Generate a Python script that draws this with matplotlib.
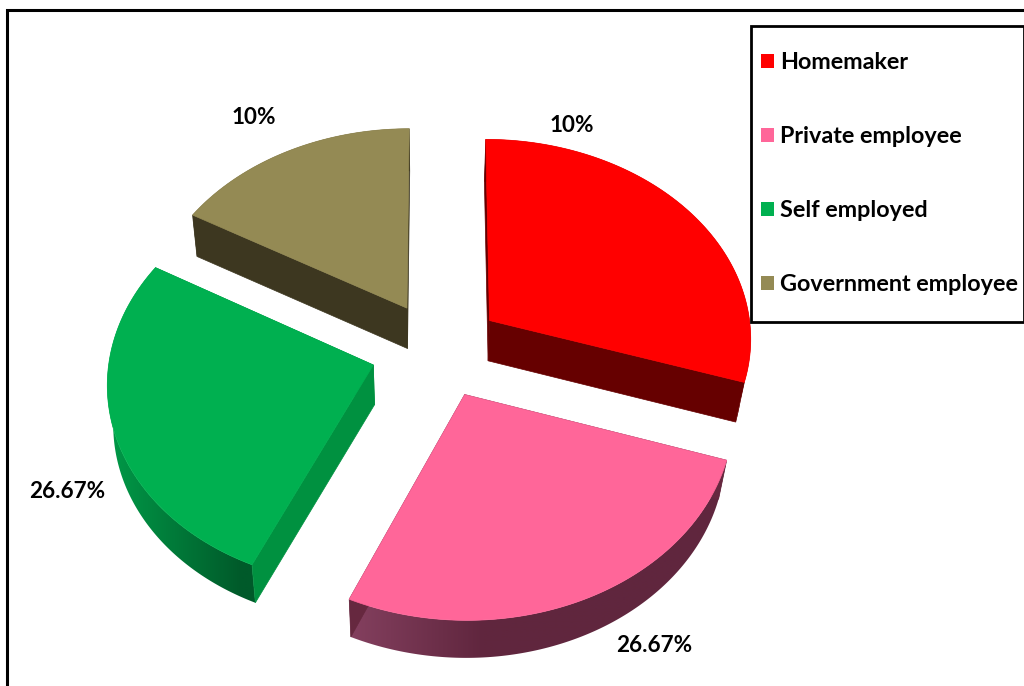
import numpy as np
from matplotlib import pyplot as plt
from matplotlib.colors import LinearSegmentedColormap
from matplotlib.patches import Patch, Polygon, Rectangle

plt.rcParams['font.family'] = ['Lato', 'DejaVu Sans']

categories = ['Homemaker', 'Private employee', 'Self employed', 'Government employee']
shares = [30, 26.67, 26.67, 16.67]
value_labels = ['10%', '26.67%', '26.67%', '10%']
top_colors = ['#FF0000', '#FF6699', '#00B050', '#948A54']
wall_colors = ['#660000', '#66283F', '#009140', '#3D3720']
rim_left = ['#660000', '#84405F', '#009A48', '#3D3720']
rim_right = ['#660000', '#60263E', '#005A2A', '#3D3720']
label_pos = [(572, 125), (654, 646), (67, 491), (254, 118)]
explode = [0.245, 0.245, 0.257, 0.24]

# pie geometry, in pixels
CX, CY = 438, 349
BX, AY = 263, 200
K = 0.08        # perspective
DEPTH = 40


def project(u, v, lower=False):
    w = 1 + K * v
    x = BX * u / w
    y = AY * v / w
    if lower:
        # bottom face slightly narrower
        return CX + x * np.where(x < 0, 0.982, 0.972), CY - y + DEPTH * (1 + 0.05 * v)
    return CX + x, CY - y


fig = plt.figure(figsize=(10.24, 6.86), dpi=100)
ax = fig.add_axes([0, 0, 1, 1])

# outer frame, runs off the right and bottom edge
ax.add_patch(Rectangle((7, 10), 1040, 700, fc='white', ec='black', lw=2.2, zorder=0))

edges = np.cumsum([0] + shares) / np.sum(shares) * 2 * np.pi
order = [3, 0, 2, 1]  # back to front

for i in order:
    t0, t1 = edges[i], edges[i + 1]
    mid = (t0 + t1) / 2
    ou, ov = explode[i] * np.sin(mid), explode[i] * np.cos(mid)
    t = np.linspace(t0, t1, 200)
    u = ou + np.sin(t)
    v = ov + np.cos(t)
    z = 3 + order.index(i)

    # outer wall, shaded left to right over its first part
    xt, yt = project(u, v)
    xb, yb = project(u, v, lower=True)
    rim = Polygon(list(zip(xt, yt)) + list(zip(xb[::-1], yb[::-1])), fc='none', ec='none',
                  transform=ax.transData)
    ax.add_patch(rim)
    x0 = min(xt.min(), xb.min())
    x1 = max(xt.max(), xb.max())
    span = 135
    shade = np.clip((np.arange(x0, x1 + 1) - x0) / span, 0, 1)[None, :]
    cmap = LinearSegmentedColormap.from_list('rim', [rim_left[i], rim_right[i]])
    im = ax.imshow(shade, cmap=cmap, vmin=0, vmax=1, aspect='auto', interpolation='bilinear',
                   extent=(x0, x1, max(yt.max(), yb.max()), min(yt.min(), yb.min())), zorder=z)
    im.set_clip_path(rim)

    # flat walls from the apex to both rim ends
    ax_t, ay_t = project(np.array([ou]), np.array([ov]))
    ax_b, ay_b = project(np.array([ou]), np.array([ov]), lower=True)
    for k in (0, -1):
        ax.add_patch(Polygon([(ax_t[0], ay_t[0]), (xt[k], yt[k]), (xb[k], yb[k]), (ax_b[0], ay_b[0])],
                             fc=wall_colors[i], ec=wall_colors[i], lw=0.5, zorder=z + 0.2))

    # top face
    top = [(ax_t[0], ay_t[0])] + list(zip(xt, yt))
    ax.add_patch(Polygon(top, fc=top_colors[i], ec=top_colors[i], lw=0.5, zorder=z + 0.5))

for lab, (lx, ly) in zip(value_labels, label_pos):
    ax.text(lx, ly, lab, ha='center', va='center', fontsize=16.2, fontweight='bold', color='black', zorder=20)

# legend box, entries sit in it without a frame of their own
ax.add_patch(Rectangle((751, 26), 272.5, 296, fc='white', ec='black', lw=2, zorder=29))
handles = [Patch(fc=c, ec='none', label=n) for c, n in zip(top_colors, categories)]
leg = ax.legend(handles=handles, loc='upper left', bbox_to_anchor=(761 / 1024, 1 - 52 / 686),
                borderaxespad=0, borderpad=0, frameon=False,
                prop={'size': 16.8, 'weight': 'bold'}, labelspacing=2.27, handlelength=0.56,
                handleheight=0.56, handletextpad=0.26)
leg.set_zorder(30)

ax.set_xlim(0, 1024)
ax.set_ylim(686, 0)
ax.axis('off')

fig.savefig('out.png', dpi=100)
